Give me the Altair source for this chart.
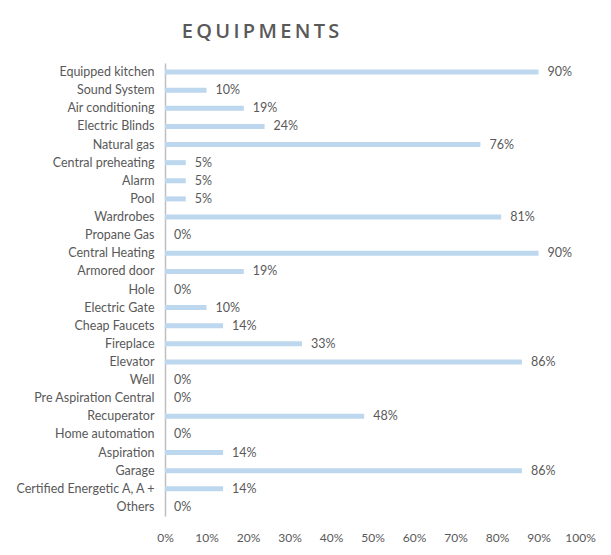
import altair as alt
import pandas as pd

categories = ["Equipped kitchen", "Sound System", "Air conditioning", "Electric Blinds",
              "Natural gas", "Central preheating", "Alarm", "Pool", "Wardrobes",
              "Propane Gas", "Central Heating", "Armored door", "Hole", "Electric Gate",
              "Cheap Faucets", "Fireplace", "Elevator", "Well", "Pre Aspiration Central",
              "Recuperator", "Home automation", "Aspiration", "Garage",
              "Certified Energetic A, A +", "Others"]
values = [0.90, 0.10, 0.19, 0.24, 0.76, 0.05, 0.05, 0.05, 0.81, 0.0, 0.90, 0.19, 0.0,
          0.10, 0.14, 0.33, 0.86, 0.0, 0.0, 0.48, 0.0, 0.14, 0.86, 0.14, 0.0]
x_ticks = [0, 0.1, 0.2, 0.3, 0.4, 0.5, 0.6, 0.7, 0.8, 0.9, 1.0]

df = pd.DataFrame({"item": categories, "share": values})

FONT = "Lato"
GRAY = "#595959"

base = alt.Chart(df).encode(
    y=alt.Y("item:N", sort=None, title=None,
            axis=alt.Axis(ticks=False, domainColor="#BFBFBF", domainWidth=1.5,
                          labelColor=GRAY, labelFont=FONT, labelFontSize=12.5,
                          labelPadding=11)),
)

bars = base.mark_bar(color="#BDD7EE", size=5).encode(
    x=alt.X("share:Q", scale=alt.Scale(domain=[0, 1]), title=None,
            axis=alt.Axis(values=x_ticks, format=".0%", grid=False, ticks=False,
                          domain=False, labelColor=GRAY, labelFont=FONT,
                          labelFontSize=12, labelPadding=16, labelOverlap=False,
                          labelFlush=False)),
)

labels = base.mark_text(align="left", baseline="middle", dx=9, font=FONT,
                        fontSize=12.5, color=GRAY).encode(
    x="share:Q",
    text=alt.Text("share:Q", format=".0%"),
)

chart = (bars + labels).properties(
    width=415, height=453,
    title=alt.TitleParams("E\u2009Q\u2009U\u2009I\u2009P\u2009M\u2009E\u2009N\u2009T\u2009S",
                          font="Open Sans", fontSize=20, fontWeight=600,
                          color=GRAY, anchor="middle", dx=-112, offset=21),
    autosize=alt.AutoSizeParams(type="none"),
    padding={"left": 165, "top": 63, "right": 31, "bottom": 39},
    background="white",
).configure_view(stroke=None)

chart.save("out.html", embed_options={"renderer": "svg", "actions": False})
